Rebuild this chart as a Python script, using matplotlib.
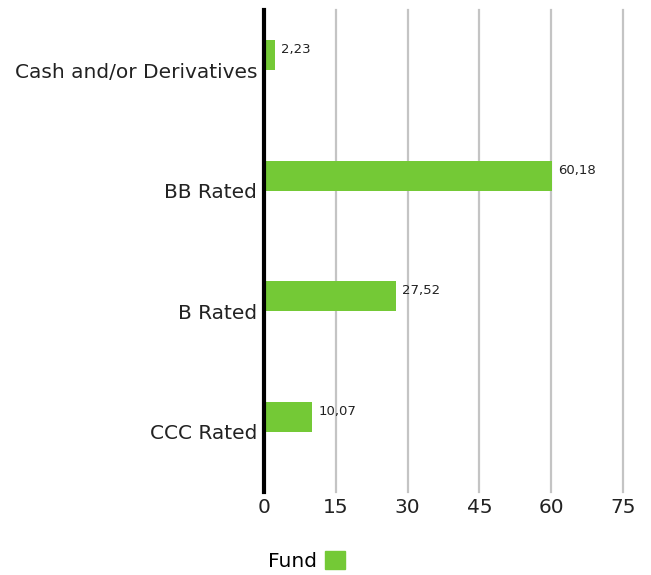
import matplotlib.pyplot as plt
from matplotlib.patches import Patch

categories = ["Cash and/or Derivatives", "BB Rated", "B Rated", "CCC Rated"]
fund = [2.23, 60.18, 27.52, 10.07]
x_ticks = [0, 15, 30, 45, 60, 75]

GREEN = "#74c936"
GRID = "#c4c4c4"

fig = plt.figure(figsize=(6.51, 5.75), dpi=100)
ax = fig.add_axes([0.4055, 0.1443, 0.5515, 0.8383])

pos = list(range(len(categories)))
bar_h = 0.25
ax.barh([p - bar_h / 2 for p in pos], fund, height=bar_h, color=GREEN, zorder=3)

for p, v in zip(pos, fund):
    ax.annotate(f"{v:.2f}".replace(".", ","), xy=(v, p - bar_h / 2), xytext=(4.5, 4),
                textcoords="offset points", ha="left", va="center", fontsize=9.5,
                color="#222222", zorder=4)

ax.set_ylim(len(categories) - 0.5, -0.5)
ax.set_xlim(0, 75)
ax.set_yticks(pos)
ax.set_yticklabels(categories)
ax.set_xticks(x_ticks)
ax.set_xticklabels([str(t) for t in x_ticks])
ax.tick_params(axis="both", length=0, labelsize=14.5, colors="#222222")
ax.tick_params(axis="x", pad=4)
ax.tick_params(axis="y", pad=5)

for t in x_ticks[1:]:
    ax.axvline(t, color=GRID, linewidth=1.6, zorder=1, clip_on=False)

for side in ["top", "right", "bottom"]:
    ax.spines[side].set_visible(False)
ax.spines["left"].set_color("black")
ax.spines["left"].set_linewidth(3.0)
ax.spines["left"].set_zorder(5)

fig.legend(handles=[Patch(color=GREEN, label="Fund")], loc="center",
           bbox_to_anchor=(0.471, 0.024), frameon=False, fontsize=14.5,
           markerfirst=False, handlelength=1.0, handleheight=1.0, handletextpad=0.4)

fig.savefig("out.png", dpi=100)
